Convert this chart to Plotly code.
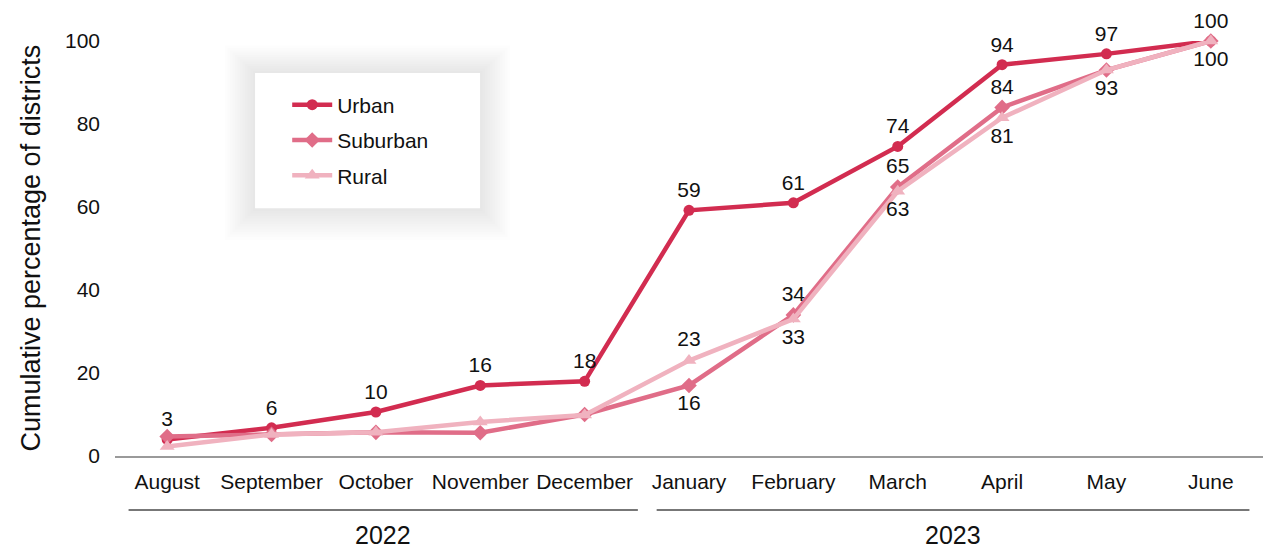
import plotly.graph_objects as go

months = ["August", "September", "October", "November", "December",
          "January", "February", "March", "April", "May", "June"]
years = ["2022"] * 5 + ["2023"] * 6

urban = [4, 6.8, 10.6, 17, 18, 59.2, 61, 74.6, 94.3, 96.9, 100]
suburban = [4.7, 5.2, 5.7, 5.6, 10, 17, 34, 64.8, 84, 93, 100]
rural = [2.3, 5.2, 5.7, 8.2, 9.9, 23, 33, 63.8, 81.5, 93, 100]

urban_text = ["3", "6", "10", "16", "18", "59", "61", "74", "94", "97", "100"]
suburban_text = ["", "", "", "", "", "16", "34", "65", "84", "", ""]
rural_text = ["", "", "", "", "", "23", "33", "63", "81", "93", "100"]

FONT = "Liberation Sans, Arial, Helvetica, sans-serif"
C_URBAN = "#d22c50"
C_SUB = "#e06d88"
C_RURAL = "#f0b2bf"

fig = go.Figure()

series = [
    ("Urban", urban, urban_text, ["top center"] * 11, C_URBAN, "circle", 11),
    ("Suburban", suburban, suburban_text,
     ["top center"] * 5 + ["bottom center"] + ["top center"] * 5,
     C_SUB, "diamond", 12),
    ("Rural", rural, rural_text,
     ["top center"] * 6 + ["bottom center"] * 5,
     C_RURAL, "triangle-up", 13),
]

for name, vals, txt, pos, col, sym, size in series:
    fig.add_trace(go.Scatter(
        x=months, y=vals, name=name, legendgroup=name,
        mode="lines+markers+text",
        line=dict(color=col, width=4.5),
        marker=dict(color=col, symbol=sym, size=size),
        text=txt, textposition=pos,
        textfont=dict(family=FONT, size=21, color="#111111"),
        cliponaxis=False, hoverinfo="x+y+name",
    ))

# legend box with a soft shadow
bx0, bx1, by0, by1 = 0.122, 0.318, 0.597, 0.923
for i in range(12):
    d = (12 - i) * 0.0022
    fig.add_shape(type="rect", xref="paper", yref="paper",
                  x0=bx0 - d, x1=bx1 + d, y0=by0 - d * 2.9, y1=by1 + d * 2.5,
                  line=dict(width=0), fillcolor="rgba(0,0,0,0.009)", layer="above")
fig.add_shape(type="rect", xref="paper", yref="paper",
              x0=bx0, x1=bx1, y0=by0, y1=by1,
              line=dict(width=0), fillcolor="white", layer="above")

# year grouping lines and labels
for yr in sorted(set(years)):
    idx = [i for i, v in enumerate(years) if v == yr]
    first, last = idx[0], idx[-1]
    x0 = first - (0.37 if first == 0 else 0.31)
    x1 = last + (0.51 if last < len(months) - 1 else 0.37)
    fig.add_shape(type="line", xref="x", yref="paper", x0=x0, x1=x1,
                  y0=-0.13, y1=-0.13, line=dict(color="#777777", width=2))
    fig.add_annotation(x=(x0 + x1) / 2, y=-0.19, xref="x", yref="paper",
                       xanchor="center", yanchor="middle",
                       text=yr, showarrow=False,
                       font=dict(family=FONT, size=25, color="#111111"))

fig.add_annotation(x=-0.074, y=0.5, xref="paper", yref="paper",
                   xanchor="center", yanchor="middle",
                   text="Cumulative percentage of districts", textangle=-90,
                   showarrow=False, font=dict(family=FONT, size=27, color="#111111"))

fig.update_layout(
    width=1283, height=548,
    margin=dict(l=115, r=20, t=41, b=92),
    paper_bgcolor="white", plot_bgcolor="white",
    font=dict(family=FONT, size=21, color="#111111"),
    showlegend=True,
    legend=dict(x=0.150, y=0.895, xanchor="left", yanchor="top",
                bgcolor="rgba(0,0,0,0)", borderwidth=0,
                font=dict(family=FONT, size=21, color="#111111"),
                tracegroupgap=5, itemwidth=40),
    xaxis=dict(type="category", range=[-0.5, 10.5], showgrid=False,
               showline=True, linecolor="#9a9a9a", linewidth=1.5,
               ticks="", ticklabelstandoff=6,
               tickfont=dict(family=FONT, size=21, color="#111111")),
    yaxis=dict(range=[0, 100], showgrid=False, zeroline=False, showline=False,
               tickvals=[0, 20, 40, 60, 80, 100], ticks="", ticklabelstandoff=14,
               tickfont=dict(family=FONT, size=21, color="#111111")),
)

fig.write_html("out.html", config={"displayModeBar": False},
               post_script="document.body.style.margin='0';")
